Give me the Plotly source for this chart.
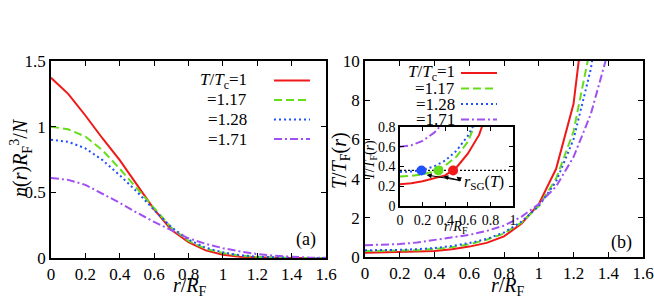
import plotly.graph_objects as go

# ---------------- data ----------------
r_a = [0.0, 0.1, 0.2, 0.3, 0.4, 0.5, 0.6, 0.7, 0.8, 0.9, 1.0, 1.1, 1.2, 1.3, 1.4, 1.5, 1.6]
n_T100 = [1.372, 1.25, 1.085, 0.91, 0.745, 0.56, 0.37, 0.215, 0.12, 0.058, 0.025, 0.01, 0.004, 0.001, 0.0, 0.0, 0.0]
n_T117 = [1.0, 0.98, 0.925, 0.82, 0.68, 0.53, 0.375, 0.23, 0.13, 0.07, 0.038, 0.018, 0.008, 0.003, 0.001, 0.0, 0.0]
n_T128 = [0.9, 0.885, 0.835, 0.745, 0.63, 0.505, 0.365, 0.235, 0.14, 0.078, 0.043, 0.021, 0.01, 0.004, 0.001, 0.0, 0.0]
n_T171 = [0.61, 0.595, 0.557, 0.49, 0.42, 0.345, 0.275, 0.212, 0.15, 0.108, 0.075, 0.05, 0.03, 0.017, 0.008, 0.003, 0.001]

r_b = [0.0, 0.1, 0.2, 0.3, 0.4, 0.5, 0.6, 0.7, 0.8, 0.9, 1.0, 1.1, 1.2, 1.3, 1.4]
t_T100 = [0.22, 0.23, 0.25, 0.28, 0.31, 0.39, 0.53, 0.72, 1.05, 1.7, 2.7, 4.5, 7.8, 15.1, None]
t_T117 = [0.30, 0.305, 0.32, 0.35, 0.41, 0.50, 0.65, 0.88, 1.2, 1.75, 2.6, 4.0, 6.4, 10.8, None]
t_T128 = [0.345, 0.35, 0.365, 0.40, 0.46, 0.56, 0.71, 0.92, 1.25, 1.8, 2.6, 3.85, 6.0, 9.6, 15.5]
t_T171 = [0.60, 0.615, 0.66, 0.74, 0.86, 0.98, 1.13, 1.33, 1.6, 2.05, 2.7, 3.6, 5.1, 7.3, 10.5]

T_SG_LEVEL = 0.36
r_SG = [0.19, 0.34, 0.47]          # blue, green, red markers
r_SG_colors_idx = [2, 1, 0]

legend_labels = ["<i>T</i>/<i>T</i><sub>c</sub>=1", "=1.17", "=1.28", "=1.71"]

a_xticks = [0, 0.2, 0.4, 0.6, 0.8, 1, 1.2, 1.4, 1.6]
a_yticks = [0, 0.5, 1, 1.5]
b_yticks = [0, 2, 4, 6, 8, 10]
in_xticks = [0, 0.2, 0.4, 0.6, 0.8, 1]
in_yticks = [0, 0.2, 0.4, 0.6, 0.8]

# ---------------- style ----------------
W, H = 654, 300
FONT = "Liberation Serif, Times New Roman, DejaVu Serif, serif"
colors = ["#f01818", "#66dd1a", "#2050ff", "#a050f0"]
dashes = ["solid", "8px,4px", "2px,3px", "8px,3px,2px,3px"]

def px(x):
    return x / W

def py(y):
    return 1 - y / H

fig = go.Figure()

n_series = [n_T100, n_T117, n_T128, n_T171]
t_series = [t_T100, t_T117, t_T128, t_T171]

for i in range(4):
    fig.add_trace(go.Scatter(x=r_a, y=n_series[i], mode="lines",
                             line=dict(color=colors[i], width=2, dash=dashes[i]),
                             xaxis="x", yaxis="y", showlegend=False, hoverinfo="skip"))
for i in range(4):
    fig.add_trace(go.Scatter(x=r_b, y=t_series[i], mode="lines",
                             line=dict(color=colors[i], width=2, dash=dashes[i]),
                             xaxis="x2", yaxis="y2", showlegend=False, hoverinfo="skip"))
# inset
fig.add_trace(go.Scatter(x=[0, 1], y=[T_SG_LEVEL, T_SG_LEVEL], mode="lines",
                         line=dict(color="black", width=1.3, dash="2px,2px"),
                         xaxis="x3", yaxis="y3", showlegend=False, hoverinfo="skip"))
for i in range(4):
    fig.add_trace(go.Scatter(x=r_b, y=t_series[i], mode="lines",
                             line=dict(color=colors[i], width=2, dash=dashes[i]),
                             xaxis="x3", yaxis="y3", showlegend=False, hoverinfo="skip"))
fig.add_trace(go.Scatter(x=r_SG, y=[T_SG_LEVEL] * 3, mode="markers",
                         marker=dict(color=[colors[k] for k in r_SG_colors_idx], size=10),
                         xaxis="x3", yaxis="y3", showlegend=False, hoverinfo="skip"))

ax_common = dict(showline=True, mirror="allticks", linecolor="black", linewidth=1.5,
                 ticks="inside", ticklen=5, tickwidth=1.2, tickcolor="black",
                 showgrid=False, zeroline=False, automargin=False,
                 tickfont=dict(family=FONT, size=17, color="black"))

# domains
a_dom_x = [px(51), px(326)]
a_dom_y = [py(258), py(61)]
b_dom_x = [px(365), px(643)]
b_dom_y = [py(257), py(61)]
i_dom_x = [px(400), px(513)]
i_dom_y = [py(206), py(127)]

inset_common = dict(ax_common)
inset_common["tickfont"] = dict(family=FONT, size=14, color="black")
inset_common["ticklen"] = 4

fig.update_layout(
    template="none",
    width=W, height=H,
    margin=dict(l=0, r=0, t=0, b=0, autoexpand=False),
    font=dict(family=FONT, color="black"),
    paper_bgcolor="white", plot_bgcolor="white",
    xaxis=dict(domain=a_dom_x, range=[0, 1.6], tickvals=a_xticks, anchor="y", **ax_common),
    yaxis=dict(domain=a_dom_y, range=[0, 1.5], tickvals=a_yticks, anchor="x", **ax_common),
    xaxis2=dict(domain=b_dom_x, range=[0, 1.6], tickvals=a_xticks, anchor="y2", **ax_common),
    yaxis2=dict(domain=b_dom_y, range=[0, 10], tickvals=b_yticks, anchor="x2", **ax_common),
    xaxis3=dict(domain=i_dom_x, range=[0, 1], tickvals=in_xticks, anchor="y3", **inset_common),
    yaxis3=dict(domain=i_dom_y, range=[0, 0.8], tickvals=in_yticks, anchor="x3", **inset_common),
)

ann = []
shapes = []

def txt(x, y, s, size=17, xanchor="center", yanchor="middle", angle=0):
    ann.append(dict(x=px(x), y=py(y), xref="paper", yref="paper", text=s, showarrow=False,
                    xanchor=xanchor, yanchor=yanchor, textangle=angle,
                    font=dict(family=FONT, size=size, color="black")))

# axis titles
txt(21, 158, "<i>n</i>(<i>r</i>)<i>R</i><sub>F</sub><sup>3</sup>/<i>N</i>", size=20, angle=-90)
txt(190, 286, "<i>r</i>/<i>R</i><sub>F</sub>", size=20)
txt(340, 160, "<i>T</i>/<i>T</i><sub>F</sub>(<i>r</i>)", size=20, angle=-90)
txt(508, 286, "<i>r</i>/<i>R</i><sub>F</sub>", size=20)
txt(370, 160, "<i>T</i>/<i>T</i><sub>F</sub>(<i>r</i>)", size=14, angle=-90)
txt(456, 227, "<i>r</i>/<i>R</i><sub>F</sub>", size=14)
txt(306, 239, "(a)", size=18)
txt(621, 242, "(b)", size=18)

# legends
leg_a_rows = [80.5, 100, 119.5, 139]
leg_b_rows = [73, 88.5, 104, 119.5]
for i in range(4):
    txt(249, leg_a_rows[i], legend_labels[i], size=17, xanchor="right")
    shapes.append(dict(type="line", xref="paper", yref="paper",
                       x0=px(274), x1=px(310), y0=py(leg_a_rows[i]), y1=py(leg_a_rows[i]),
                       line=dict(color=colors[i], width=2, dash=dashes[i])))
    txt(457, leg_b_rows[i], legend_labels[i], size=17, xanchor="right")
    shapes.append(dict(type="line", xref="paper", yref="paper",
                       x0=px(461), x1=px(497), y0=py(leg_b_rows[i]), y1=py(leg_b_rows[i]),
                       line=dict(color=colors[i], width=2, dash=dashes[i])))

# r_SG(T) label with arrows in inset
ann.append(dict(x=0.55, y=0.235, xref="x3", yref="y3", showarrow=False,
                text="<i>r</i><sub>SG</sub>(<i>T</i>)", xanchor="left", yanchor="middle",
                font=dict(family=FONT, size=16, color="black")))
arrow_tips = [(0.236, 0.314), (0.383, 0.299), (0.50, 0.297)]
for (tx, ty) in arrow_tips:
    ann.append(dict(x=tx, y=ty, xref="x3", yref="y3", ax=0.55, ay=0.255,
                    axref="x3", ayref="y3", showarrow=True, arrowhead=2, arrowsize=1,
                    arrowwidth=1, arrowcolor="black", text=""))

fig.update_layout(annotations=ann, shapes=shapes)

fig.write_html("out.html", config={"displayModeBar": False},
               post_script="document.body.style.margin='0px';document.body.style.padding='0px';")
